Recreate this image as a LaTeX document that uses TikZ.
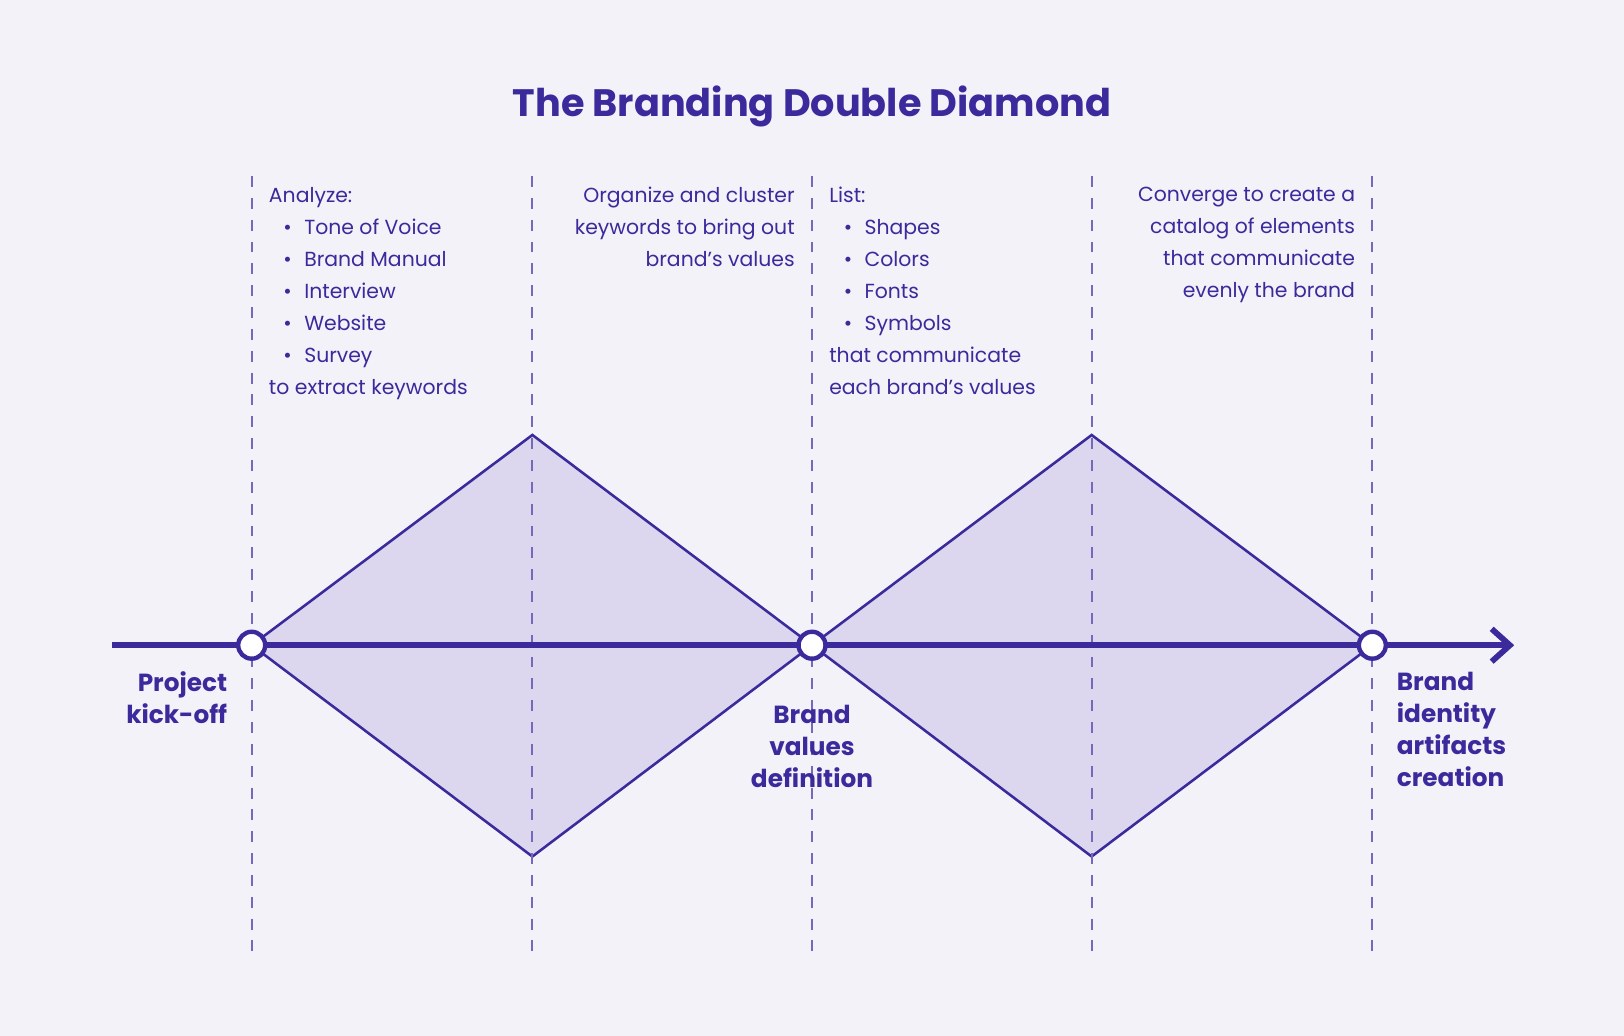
\documentclass[tikz,border=0pt]{standalone}
\usepackage{fontspec}
\setmainfont{Poppins}
\usetikzlibrary{arrows.meta}
\definecolor{ink}{HTML}{3A2A9C}
\definecolor{lilac}{HTML}{DCD6EF}
\definecolor{paper}{HTML}{F3F2F8}
\tikzset{
  guide/.style = {dashed, ink!70, line width=0.5pt},
  note/.style = {font=\fontsize{5.6}{8.8}\selectfont, text=ink, inner sep=0pt},
  milestone/.style = {font=\bfseries\fontsize{6.8}{8.8}\selectfont, text=ink, inner sep=0pt},
  dot/.style = {circle, draw=ink, fill=white, line width=1.2pt, minimum size=0.26cm, inner sep=0pt}
}
\newcommand{\itm}[1]{\hspace*{0.14cm}\textbullet\hspace{0.12cm}#1}
\begin{document}
\begin{tikzpicture}
\fill[paper] (0,0) rectangle (15.68,10);
\useasboundingbox (0,0) rectangle (15.68,10);

% diamonds
\fill[lilac] (2.43,3.77) -- (5.14,5.80) -- (7.84,3.77) -- (5.14,1.73) -- cycle;
\fill[lilac] (7.84,3.77) -- (10.54,5.80) -- (13.25,3.77) -- (10.54,1.73) -- cycle;
\draw[ink, line width=0.7pt] (2.43,3.77) -- (5.14,5.80) -- (7.84,3.77) -- (5.14,1.73) -- cycle;
\draw[ink, line width=0.7pt] (7.84,3.77) -- (10.54,5.80) -- (13.25,3.77) -- (10.54,1.73) -- cycle;

% guides
\foreach \x in {2.43,5.14,7.84,10.54,13.25}
  \draw[guide] (\x,8.30) -- (\x,0.80);

% axis
\coordinate (start) at (1.08,3.77);
\coordinate (stop) at (14.62,3.77);
\draw[ink, line width=1.6pt, -{Straight Barb[length=5pt,width=9pt]}] (start) -- (stop);
\node[dot] (kick) at (2.43,3.77) {};
\node[dot] (values) at (7.84,3.77) {};
\node[dot] (artifacts) at (13.25,3.77) {};

\node[font=\bfseries\fontsize{10.5}{12}\selectfont, text=ink] (title) at (7.84,8.97) {The Branding Double Diamond};

% notes
\node[note, anchor=north west, align=left] (analyze) at (2.59,8.20)
  {Analyze:\\ \itm{Tone of Voice}\\ \itm{Brand Manual}\\ \itm{Interview}\\ \itm{Website}\\ \itm{Survey}\\ to extract keywords};
\node[note, anchor=north east, align=right] (organize) at (7.68,8.20)
  {Organize and cluster\\ keywords to bring out\\ brand’s values};
\node[note, anchor=north west, align=left] (list) at (8.00,8.20)
  {List:\\ \itm{Shapes}\\ \itm{Colors}\\ \itm{Fonts}\\ \itm{Symbols}\\ that communicate\\ each brand's values};
\node[note, anchor=north east, align=right] (converge) at (13.09,8.20)
  {Converge to create a\\ catalog of elements\\ that communicate\\ evenly the brand};

% milestones
\node[milestone, anchor=north east, align=right] (kicklabel) at (2.20,3.52) {Project\\ kick-off};
\node[milestone, anchor=north, align=center] (valueslabel) at (7.84,3.20) {Brand\\ values\\ definition};
\node[milestone, anchor=north west, align=left] (artifactslabel) at (13.48,3.52) {Brand\\ identity\\ artifacts\\ creation};
\end{tikzpicture}
\end{document}
